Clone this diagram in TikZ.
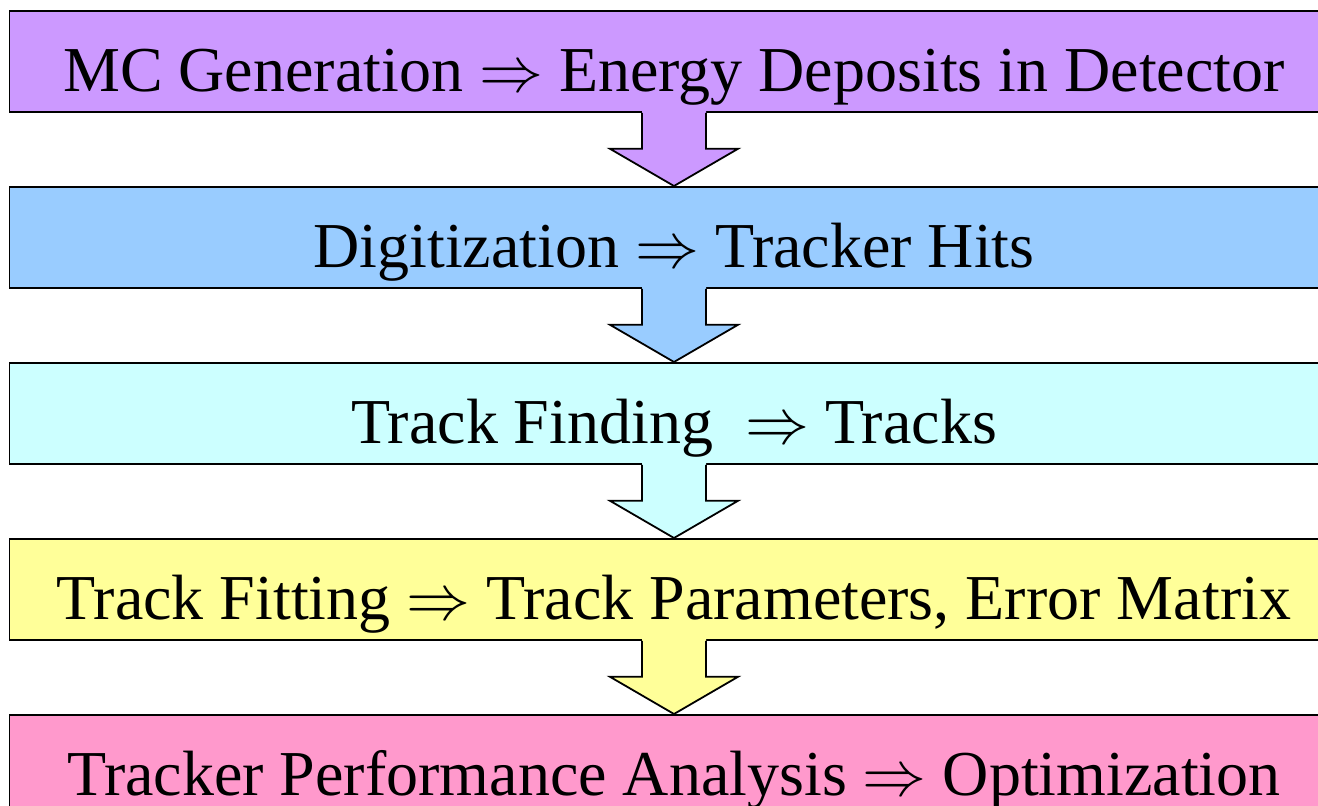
\RequirePackage{fix-cm}
\documentclass[tikz,border=0pt]{standalone}
\usepackage{fontspec}
\setmainfont{Liberation Serif}
\usetikzlibrary{calc}
\definecolor{cPurple}{HTML}{CC99FF}
\definecolor{cBlue}{HTML}{99CCFF}
\definecolor{cCyan}{HTML}{CCFFFF}
\definecolor{cYellow}{HTML}{FFFF99}
\definecolor{cPink}{HTML}{FF99CC}
\newcommand\stagearrow[3]{%
  \fill[#3] ($(#1.south)+(-32,-2)$) -- ($(#1.south)+(-32,36)$) -- ($(#1.south)+(-64,36)$)
     -- (#2.north) -- ($(#1.south)+(64,36)$) -- ($(#1.south)+(32,36)$) -- ($(#1.south)+(32,-2)$) -- cycle;
  \draw[flowline] ($(#1.south)+(-32,0)$) -- ($(#1.south)+(-32,36)$) -- ($(#1.south)+(-64,36)$)
     -- (#2.north) -- ($(#1.south)+(64,36)$) -- ($(#1.south)+(32,36)$) -- ($(#1.south)+(32,0)$);
}
\begin{document}
\begin{tikzpicture}[x=1pt,y=-1pt,
  stagebox/.style={draw=black, line width=1.8pt, minimum width=1329pt, minimum height=101pt,
    inner sep=0pt, text height=81pt, text depth=20pt, anchor=north,
    font=\fontsize{64}{70}\selectfont},
  flowline/.style={draw=black, line width=1.8pt, line join=miter}]
\useasboundingbox (0,0) rectangle (1318,806);
\clip (0,0) rectangle (1318,806);
\fill[white] (0,0) rectangle (1318,806);
\node[stagebox, fill=cPurple] (b1) at (674,10) {MC Generation $\Rightarrow$ Energy Deposits in Detector};
\node[stagebox, fill=cBlue] (b2) at (674,186) {Digitization $\Rightarrow$ Tracker Hits};
\node[stagebox, fill=cCyan] (b3) at (674,362) {Track Finding~ $\Rightarrow$ Tracks};
\node[stagebox, fill=cYellow] (b4) at (674,538) {Track Fitting $\Rightarrow$ Track Parameters, Error Matrix};
\node[stagebox, fill=cPink] (b5) at (674,714) {Tracker Performance Analysis $\Rightarrow$ Optimization};
\stagearrow{b1}{b2}{cPurple}
\stagearrow{b2}{b3}{cBlue}
\stagearrow{b3}{b4}{cCyan}
\stagearrow{b4}{b5}{cYellow}
\end{tikzpicture}
\end{document}
